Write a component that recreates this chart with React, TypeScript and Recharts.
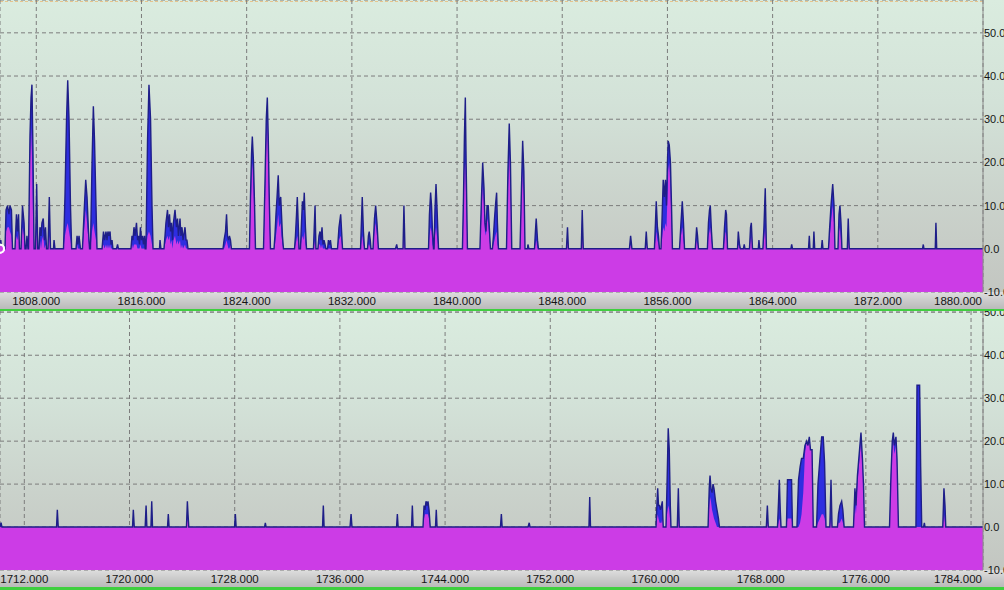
import React from 'react'
import { ComposedChart, Area, Line, XAxis, YAxis, CartesianGrid, ReferenceArea } from 'recharts'

// upper panel (1805 - 1880)
const topYears = [
  1805.24, 1805.30, 1805.36,
  1805.62, 1805.70, 1805.81, 1805.92, 1806.00, 1806.11, 1806.19,
  1806.38, 1806.49, 1806.57, 1806.65, 1806.72,
  1806.84, 1806.95, 1807.07, 1807.14,
  1807.22, 1807.29, 1807.37,
  1807.41, 1807.52, 1807.60, 1807.67, 1807.75, 1807.83,
  1807.94, 1808.03, 1808.11,
  1808.21, 1808.28, 1808.36, 1808.43, 1808.53, 1808.62, 1808.70, 1808.78,
  1808.89, 1808.99, 1809.08,
  1809.31, 1809.35, 1809.42,
  1810.07, 1810.18, 1810.30, 1810.39, 1810.49, 1810.60, 1810.69,
  1811.02, 1811.10, 1811.17, 1811.25, 1811.36,
  1811.51, 1811.63, 1811.76, 1811.86, 1811.97, 1812.05,
  1812.12, 1812.24, 1812.34, 1812.43, 1812.54, 1812.62,
  1813.00, 1813.11, 1813.19, 1813.30, 1813.38, 1813.45, 1813.53, 1813.61, 1813.68, 1813.76, 1813.83,
  1814.10, 1814.18, 1814.25,
  1815.20, 1815.28, 1815.35, 1815.43, 1815.51, 1815.62, 1815.70, 1815.77, 1815.85, 1815.92, 1816.00, 1816.08, 1816.15, 1816.23, 1816.28,
  1816.34, 1816.46, 1816.57, 1816.69, 1816.80, 1816.88,
  1817.37, 1817.41, 1817.48,
  1817.71, 1817.79, 1817.86, 1817.98, 1818.05, 1818.13, 1818.21, 1818.28, 1818.36, 1818.43, 1818.55, 1818.66, 1818.74, 1818.81, 1818.93, 1819.00, 1819.08, 1819.16, 1819.31, 1819.39, 1819.46, 1819.54,
  1822.20, 1822.28, 1822.39, 1822.47, 1822.54, 1822.62, 1822.69, 1822.77, 1822.84,
  1824.21, 1824.29, 1824.37, 1824.43, 1824.52, 1824.60, 1824.67,
  1825.28, 1825.39, 1825.49, 1825.57, 1825.64, 1825.73, 1825.81,
  1826.08, 1826.15, 1826.23, 1826.31, 1826.40, 1826.48, 1826.59, 1826.65, 1826.72, 1826.80,
  1827.64, 1827.71, 1827.79, 1827.85, 1827.93, 1827.98,
  1828.09, 1828.17, 1828.24, 1828.32, 1828.38, 1828.47, 1828.55,
  1829.08, 1829.20, 1829.27,
  1829.42, 1829.50, 1829.58, 1829.65, 1829.73, 1829.80, 1829.88, 1829.96, 1830.03,
  1830.15, 1830.22, 1830.30, 1830.37, 1830.45,
  1830.91, 1831.02, 1831.15, 1831.29,
  1832.66, 1832.79, 1832.88, 1832.96,
  1833.19, 1833.26, 1833.32, 1833.40, 1833.45,
  1833.61, 1833.72, 1833.81, 1833.91, 1834.02,
  1835.32, 1835.41, 1835.47,
  1835.89, 1835.96, 1836.04,
  1837.83, 1837.90, 1837.99, 1838.06, 1838.13, 1838.21,
  1838.25, 1838.32, 1838.40, 1838.47, 1838.59,
  1840.41, 1840.49, 1840.56, 1840.63, 1840.69, 1840.79,
  1841.74, 1841.86, 1841.95, 1842.05, 1842.12, 1842.20, 1842.28, 1842.37, 1842.47, 1842.54,
  1842.69, 1842.77, 1842.85, 1842.92, 1843.01, 1843.07, 1843.15,
  1843.76, 1843.87, 1843.97, 1844.06, 1844.16,
  1844.79, 1844.90, 1844.99, 1845.08, 1845.17,
  1845.36, 1845.39, 1845.47,
  1845.89, 1845.96, 1846.02, 1846.12, 1846.19,
  1848.32, 1848.40, 1848.47,
  1849.45, 1849.52, 1849.60,
  1853.11, 1853.20, 1853.30,
  1854.31, 1854.39, 1854.47,
  1855.01, 1855.09, 1855.15, 1855.24, 1855.32, 1855.39,
  1855.51, 1855.58, 1855.68, 1855.77, 1855.85, 1855.93, 1856.00, 1856.06, 1856.14, 1856.23, 1856.31, 1856.38,
  1856.92, 1857.03, 1857.13, 1857.22, 1857.30,
  1858.12, 1858.22, 1858.29, 1858.36,
  1859.04, 1859.12, 1859.20, 1859.26, 1859.35, 1859.43,
  1860.26, 1860.34, 1860.43, 1860.49, 1860.57,
  1861.33, 1861.39, 1861.48, 1861.55,
  1861.78, 1861.84, 1861.90,
  1862.24, 1862.32, 1862.38, 1862.47,
  1862.91, 1862.96, 1863.02,
  1863.26, 1863.34, 1863.44, 1863.53,
  1865.39, 1865.45, 1865.51,
  1866.73, 1866.79, 1866.84,
  1867.09, 1867.14, 1867.20,
  1867.71, 1867.77, 1867.83,
  1868.25, 1868.32, 1868.44, 1868.57, 1868.67, 1868.74,
  1868.97, 1869.05, 1869.12, 1869.20, 1869.27,
  1869.68, 1869.75, 1869.83,
  1875.40, 1875.46, 1875.51,
  1876.37, 1876.42, 1876.48,
  1880.00,
]

const topBlue = [
  0, 2, 0,
  0, 9, 10, 8, 10, 9, 0,
  0, 8, 4, 8, 0,
  0, 10, 6, 0,
  0, 3, 0,
  0, 26, 35, 38, 22, 0,
  0, 15, 0,
  0, 5, 3, 6, 7, 2, 5, 0,
  0, 12, 0,
  0, 2, 0,
  0, 12, 30, 39, 30, 10, 0,
  0, 3, 1, 3, 0,
  0, 8, 16, 12, 4, 0,
  0, 20, 33, 25, 10, 0,
  0, 4, 2, 4, 2, 4, 3, 4, 1, 2, 0,
  0, 1, 0,
  0, 3, 2, 5, 3, 6, 2, 3, 1, 5, 2, 3, 1, 3, 0,
  0, 25, 38, 30, 10, 0,
  0, 2, 0,
  0, 3, 6, 9, 5, 8, 4, 6, 2, 6, 9, 5, 7, 3, 7, 3, 5, 2, 5, 2, 2, 0,
  0, 2, 4, 8, 3, 2, 3, 2, 0,
  0, 12, 22, 26, 20, 10, 0,
  0, 15, 30, 35, 26, 10, 0,
  0, 3, 8, 12, 17, 10, 12, 8, 3, 0,
  0, 3, 8, 12, 5, 0,
  0, 6, 11, 9, 13, 5, 0,
  0, 10, 0,
  0, 3, 4, 2, 5, 1, 2, 1, 0,
  0, 2, 1, 2, 0,
  0, 5, 8, 0,
  0, 12, 4, 0,
  0, 3, 4, 2, 0,
  0, 7, 10, 6, 0,
  0, 1, 0,
  0, 10, 0,
  0, 8, 13, 10, 4, 0,
  0, 9, 15, 10, 0,
  0, 12, 26, 35, 20, 0,
  0, 12, 20, 14, 6, 4, 10, 10, 4, 0,
  0, 3, 7, 10, 13, 6, 0,
  0, 18, 29, 20, 0,
  0, 14, 25, 18, 0,
  0, 1, 0,
  0, 4, 7, 2, 0,
  0, 5, 0,
  0, 9, 0,
  0, 3, 0,
  0, 4, 0,
  0, 6, 11, 5, 3, 0,
  0, 6, 16, 12, 16, 10, 20, 25, 24, 20, 10, 0,
  0, 6, 11, 6, 0,
  0, 5, 3, 0,
  0, 6, 9, 10, 4, 0,
  0, 5, 9, 8, 0,
  0, 4, 1, 0,
  0, 1, 0,
  0, 5, 6, 0,
  0, 2, 0,
  0, 5, 14, 0,
  0, 1, 0,
  0, 3, 0,
  0, 4, 0,
  0, 2, 0,
  0, 4, 10, 15, 10, 0,
  0, 8, 10, 6, 0,
  0, 7, 0,
  0, 1, 0,
  0, 6, 0,
  0,
]

const topPink = [
  0, 0, 0,
  0, 4, 5, 5, 4, 3, 0,
  0, 3, 2, 4, 0,
  0, 5, 3, 0,
  0, 1, 0,
  0, 20, 28, 22, 8, 0,
  0, 4, 0,
  0, 2, 0, 2, 3, 0, 1, 0,
  0, 3, 0,
  0, 0, 0,
  0, 3, 5, 6, 4, 2, 0,
  0, 1, 0, 0, 0,
  0, 4, 9, 6, 2, 0,
  0, 4, 6, 4, 2, 0,
  0, 1, 0, 1, 0, 1, 0, 1, 0, 0, 0,
  0, 0, 0,
  0, 1, 0, 1, 1, 1, 0, 0, 0, 1, 0, 0, 0, 0, 0,
  0, 3, 4, 3, 1, 0,
  0, 0, 0,
  0, 1, 2, 3, 2, 3, 1, 2, 0, 2, 3, 1, 2, 1, 2, 0, 1, 0, 1, 0, 0, 0,
  0, 0, 1, 2, 1, 0, 0, 1, 0,
  0, 8, 16, 20, 14, 6, 0,
  0, 10, 24, 30, 20, 6, 0,
  0, 1, 3, 5, 8, 5, 6, 3, 1, 0,
  0, 1, 2, 3, 1, 0,
  0, 2, 3, 2, 4, 1, 0,
  0, 2, 0,
  0, 1, 1, 0, 1, 0, 0, 0, 0,
  0, 0, 0, 0, 0,
  0, 2, 3, 0,
  0, 3, 1, 0,
  0, 1, 1, 0, 0,
  0, 4, 6, 3, 0,
  0, 0, 0,
  0, 3, 0,
  0, 3, 5, 4, 1, 0,
  0, 3, 5, 3, 0,
  0, 8, 18, 20, 12, 0,
  0, 8, 15, 10, 4, 3, 7, 6, 2, 0,
  0, 1, 2, 3, 4, 1, 0,
  0, 14, 22, 15, 0,
  0, 10, 18, 12, 0,
  0, 0, 0,
  0, 1, 2, 0, 0,
  0, 2, 0,
  0, 3, 0,
  0, 1, 0,
  0, 1, 0,
  0, 2, 4, 2, 1, 0,
  0, 2, 5, 4, 6, 5, 12, 18, 20, 14, 6, 0,
  0, 3, 5, 2, 0,
  0, 2, 1, 0,
  0, 3, 4, 5, 2, 0,
  0, 2, 4, 3, 0,
  0, 1, 0, 0,
  0, 0, 0,
  0, 2, 3, 0,
  0, 0, 0,
  0, 2, 5, 0,
  0, 0, 0,
  0, 1, 0,
  0, 1, 0,
  0, 0, 0,
  0, 2, 6, 10, 6, 0,
  0, 4, 5, 2, 0,
  0, 3, 0,
  0, 0, 0,
  0, 2, 0,
  0,
]

// lower panel (1710 - 1785)
const bottomYears = [
  1710.15, 1710.23, 1710.30,
  1714.45, 1714.51, 1714.58,
  1720.23, 1720.29, 1720.36,
  1721.19, 1721.26, 1721.32,
  1721.63, 1721.69, 1721.75,
  1722.89, 1722.95, 1723.01,
  1724.33, 1724.40, 1724.45, 1724.51,
  1727.99, 1728.05, 1728.11,
  1730.27, 1730.33, 1730.39,
  1734.68, 1734.74, 1734.80,
  1736.77, 1736.85, 1736.92,
  1740.31, 1740.37, 1740.43,
  1741.45, 1741.51, 1741.57,
  1742.32, 1742.40, 1742.47, 1742.55, 1742.63, 1742.70, 1742.78, 1742.87,
  1743.27, 1743.33, 1743.39,
  1748.21, 1748.28, 1748.34,
  1750.31, 1750.40, 1750.46,
  1754.94, 1755.00, 1755.06,
  1760.04, 1760.12, 1760.17, 1760.23, 1760.31, 1760.38, 1760.46, 1760.52, 1760.59,
  1760.80, 1760.88, 1760.97, 1761.05, 1761.13, 1761.18,
  1761.66, 1761.74, 1761.81,
  1764.00, 1764.09, 1764.15, 1764.22, 1764.30, 1764.38, 1764.45, 1764.57, 1764.68, 1764.79, 1764.87,
  1768.43, 1768.51, 1768.58,
  1769.28, 1769.36, 1769.42, 1769.49, 1769.55,
  1769.96, 1770.04, 1770.35, 1770.42,
  1770.76, 1770.88, 1771.00, 1771.11, 1771.24, 1771.37, 1771.50, 1771.60, 1771.70, 1771.79, 1771.91, 1772.00,
  1772.25, 1772.36, 1772.51, 1772.64, 1772.76, 1772.86, 1772.97,
  1773.26, 1773.35, 1773.43,
  1773.84, 1773.92, 1774.03, 1774.16, 1774.25, 1774.35,
  1775.06, 1775.17, 1775.25, 1775.36, 1775.52, 1775.63, 1775.74, 1775.82, 1775.90,
  1777.80, 1777.91, 1778.01, 1778.09, 1778.16, 1778.29, 1778.37, 1778.48,
  1779.81, 1779.89, 1780.09, 1780.17, 1780.25,
  1780.39, 1780.45, 1780.50,
  1781.85, 1781.91, 1781.94, 1782.02, 1782.08,
  1784.91,
]

const bottomBlue = [
  0, 1, 0,
  0, 4, 0,
  0, 4, 0,
  0, 5, 0,
  0, 6, 0,
  0, 3, 0,
  0, 6, 3, 0,
  0, 3, 0,
  0, 1, 0,
  0, 5, 0,
  0, 3, 0,
  0, 3, 0,
  0, 5, 0,
  0, 5, 4, 6, 5, 6, 4, 0,
  0, 4, 0,
  0, 3, 0,
  0, 1, 0,
  0, 7, 0,
  0, 6, 9, 5, 5, 4, 5, 6, 0,
  0, 10, 23, 18, 5, 0,
  0, 9, 0,
  0, 9, 12, 9, 8, 10, 9, 6, 4, 2, 0,
  0, 5, 0,
  0, 6, 11, 4, 0,
  0, 11, 11, 0,
  0, 11, 14, 16, 16, 19, 20, 19, 21, 18, 18, 0,
  0, 10, 16, 21, 21, 15, 0,
  0, 11, 0,
  0, 3, 5, 6, 4, 0,
  0, 9, 5, 12, 18, 22, 16, 10, 0,
  0, 12, 20, 22, 19, 21, 16, 0,
  0, 33, 33, 14, 0,
  0, 1, 0,
  0, 6, 9, 5, 0,
  0,
]

const bottomPink = [
  0, 0, 0,
  0, 1, 0,
  0, 1, 0,
  0, 1, 0,
  0, 2, 0,
  0, 1, 0,
  0, 2, 1, 0,
  0, 1, 0,
  0, 0, 0,
  0, 1, 0,
  0, 1, 0,
  0, 1, 0,
  0, 1, 0,
  0, 2, 3, 3, 3, 3, 2, 0,
  0, 1, 0,
  0, 1, 0,
  0, 0, 0,
  0, 2, 0,
  0, 2, 3, 2, 1, 1, 1, 2, 0,
  0, 3, 5, 4, 1, 0,
  0, 2, 0,
  0, 5, 7, 6, 4, 3, 2, 1, 0, 0, 0,
  0, 1, 0,
  0, 1, 2, 1, 0,
  0, 2, 2, 0,
  0, 0, 1, 3, 8, 17, 20, 19, 21, 18, 18, 0,
  0, 1, 2, 3, 3, 2, 0,
  0, 2, 0,
  0, 1, 1, 2, 1, 0,
  0, 5, 3, 10, 16, 20, 14, 9, 0,
  0, 10, 18, 20, 17, 19, 14, 0,
  0, 0, 0, 0, 0,
  0, 0, 0,
  0, 2, 3, 1, 0,
  0,
]

const topTicks = [1808, 1816, 1824, 1832, 1840, 1848, 1856, 1864, 1872, 1880]
const bottomTicks = [1712, 1720, 1728, 1736, 1744, 1752, 1760, 1768, 1776, 1784]
const valueTicks = [-10, 0, 10, 20, 30, 40, 50]

const FONT = "Arial, 'Liberation Sans', sans-serif"
const PLOT_RIGHT = 983
const MAGENTA = '#cc3ce6'
const BG = 'linear-gradient(180deg, #daecdf 0%, #d3e2d8 35%, #cad2cb 70%, #c3c6c1 100%)'
const STRIP = 'linear-gradient(180deg, #dedede 0%, #cbcbcb 50%, #bababa 100%)'

function XTick(props: any) {
  const { x, y, payload } = props
  const half = 23
  let tx = x
  let anchor = 'middle'
  if (x + half > PLOT_RIGHT - 1) {
    tx = PLOT_RIGHT - 1
    anchor = 'end'
  }
  return (
    <text x={tx} y={y + 12.5} textAnchor={anchor} fontSize={11.5} fontFamily={FONT} fill="#151515">
      {Number(payload.value).toFixed(3)}
    </text>
  )
}

function YTick(props: any) {
  const { x, y, payload } = props
  return (
    <text x={x} y={y + 4} textAnchor="start" fontSize={11} fontFamily={FONT} fill="#151515">
      {Number(payload.value).toFixed(1)}
    </text>
  )
}

function Panel({ years, blue, pink, domain, ticks, yMax, height, axisHeight }: any) {
  const data = years.map((x: number, i: number) => ({ x, blue: blue[i], pink: pink[i] }))
  return (
    <ComposedChart
      width={1004}
      height={height}
      data={data}
      margin={{ top: 0, right: 0, bottom: 0, left: 0 }}
      accessibilityLayer={false}
      style={{ overflow: 'hidden', outline: 'none' }}
    >
      <CartesianGrid stroke="#7c7c7c" strokeDasharray="4 3" strokeWidth={1} />
      <XAxis
        dataKey="x"
        type="number"
        domain={domain}
        ticks={ticks}
        interval={0}
        allowDataOverflow
        height={axisHeight}
        axisLine={false}
        tickLine={false}
        tickSize={0}
        tickMargin={0}
        tick={<XTick />}
      />
      <YAxis
        orientation="right"
        type="number"
        domain={[-10, yMax]}
        ticks={valueTicks}
        interval={0}
        allowDataOverflow
        width={21}
        axisLine={{ stroke: '#8a8a8a' }}
        tickLine={false}
        tickSize={0}
        tickMargin={1}
        tick={<YTick />}
      />
      <ReferenceArea y1={-10} y2={0} fill={MAGENTA} fillOpacity={1} stroke="none" ifOverflow="hidden" />
      <Area
        dataKey="blue"
        type="linear"
        baseValue={0}
        fill="#2e2ee0"
        fillOpacity={1}
        stroke="none"
        isAnimationActive={false}
      />
      <Area
        dataKey="pink"
        type="linear"
        baseValue={-10}
        fill={MAGENTA}
        fillOpacity={1}
        stroke="none"
        isAnimationActive={false}
      />
      <Line
        dataKey="blue"
        type="linear"
        stroke="#1e1e88"
        strokeWidth={1.4}
        dot={false}
        activeDot={false}
        isAnimationActive={false}
      />
    </ComposedChart>
  )
}

export default function App() {
  return (
    <div style={{ position: 'absolute', left: 0, top: 0, width: 1004, height: 590, overflow: 'hidden', background: '#d4d6d3' }}>
      <div style={{ position: 'absolute', left: 0, top: 0, width: 1004, height: 292, background: BG }} />
      <div style={{ position: 'absolute', left: 0, top: 1, width: 983, height: 0, borderTop: '1.5px dashed #e6c48e' }} />
      <div style={{ position: 'absolute', left: 0, top: 292, width: 1004, height: 17, background: STRIP }} />
      <div style={{ position: 'absolute', left: 0, top: 309, width: 1004, height: 2, background: '#3fcf3f' }} />
      <div style={{ position: 'absolute', left: 0, top: 311, width: 1004, height: 259, background: BG }} />
      <div style={{ position: 'absolute', left: 0, top: 570, width: 1004, height: 17, background: STRIP }} />
      <div style={{ position: 'absolute', left: 0, top: 587, width: 1004, height: 3, background: '#3fcf3f' }} />
      <div style={{ position: 'absolute', left: 0, top: 0, width: 1004, height: 311, overflow: 'hidden' }}>
        <Panel
          years={topYears}
          blue={topBlue}
          pink={topPink}
          domain={[1805.24, 1880.0]}
          ticks={topTicks}
          yMax={57.6}
          height={311}
          axisHeight={19}
        />
      </div>
      <div style={{ position: 'absolute', left: 0, top: 311, width: 1004, height: 279, overflow: 'hidden' }}>
        <Panel
          years={bottomYears}
          blue={bottomBlue}
          pink={bottomPink}
          domain={[1710.15, 1784.91]}
          ticks={bottomTicks}
          yMax={50.3}
          height={279}
          axisHeight={20}
        />
      </div>
    </div>
  )
}
